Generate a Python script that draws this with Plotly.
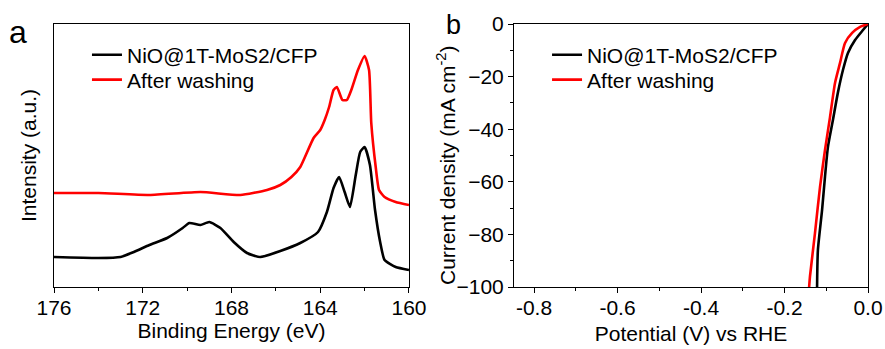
import plotly.graph_objects as go
from plotly.subplots import make_subplots

# ---- Panel a: XPS S 2p (binding energy eV, intensity a.u.) ----
be_black = [176.0, 174.0, 173.0, 172.4, 171.7, 170.9, 170.2, 169.9, 169.4, 169.0, 168.5,
            167.9, 167.3, 166.7, 165.8, 164.9, 164.1, 163.7, 163.4, 163.15, 162.9, 162.66,
            162.4, 162.2, 162.0, 161.76, 161.53, 161.3, 161.1, 160.6, 160.0]
int_black = [30, 29, 30, 35, 42, 49, 59, 64, 62, 65, 59,
             45, 34, 30, 36, 44, 55, 75, 99, 110, 95, 80,
             112, 135, 140, 122, 77, 45, 27, 20, 17]

be_red = [176.0, 174.0, 171.7, 169.4, 167.6, 166.4, 165.8, 165.3, 164.9, 164.3, 164.0,
          163.8, 163.6, 163.4, 163.25, 163.0, 162.8, 162.6, 162.3, 162.0, 161.8, 161.7,
          161.5, 161.35, 161.1, 160.6, 160.0]
int_red = [94, 94, 92, 95, 92, 97, 102, 110, 120, 149, 157,
           167, 180, 197, 200, 187, 187, 197, 217, 231, 217, 164,
           120, 97, 90, 85, 82]

# ---- Panel b: LSV (potential V vs RHE, current density mA cm^-2) ----
v_black = [0.0, -0.012, -0.031, -0.048, -0.060, -0.072, -0.084, -0.096, -0.103, -0.110, -0.120, -0.122]
j_black = [0.0, -2.3, -6.1, -11.0, -17.5, -26.0, -36.5, -46.8, -58.0, -70.7, -86.0, -100.0]

v_red = [0.0, -0.019, -0.038, -0.055, -0.067, -0.079, -0.091, -0.103, -0.115, -0.127, -0.139, -0.141]
j_red = [0.0, -1.1, -3.4, -7.2, -14.8, -22.4, -35.4, -47.9, -62.0, -79.5, -96.0, -100.0]

names = ["NiO@1T-MoS2/CFP", "After washing"]
colors = ["#000000", "#ff0000"]

FONT = "Liberation Sans, Arial, sans-serif"
FS = 21

fig = make_subplots(rows=1, cols=2, horizontal_spacing=0.1290)
fig.update_xaxes(domain=[0.0, 0.4361], row=1, col=1)
fig.update_xaxes(domain=[0.5651, 1.0], row=1, col=2)

fig.add_trace(go.Scatter(x=be_black, y=int_black, mode="lines", name=names[0],
                         line=dict(color=colors[0], width=2.6, shape="spline", smoothing=0.5),
                         legend="legend"), row=1, col=1)
fig.add_trace(go.Scatter(x=be_red, y=int_red, mode="lines", name=names[1],
                         line=dict(color=colors[1], width=2.6, shape="spline", smoothing=0.5),
                         legend="legend2"), row=1, col=1)
fig.add_trace(go.Scatter(x=v_black, y=j_black, mode="lines", name=names[0],
                         line=dict(color=colors[0], width=2.6, shape="spline", smoothing=0.6),
                         legend="legend3"), row=1, col=2)
fig.add_trace(go.Scatter(x=v_red, y=j_red, mode="lines", name=names[1],
                         line=dict(color=colors[1], width=2.6, shape="spline", smoothing=0.6),
                         legend="legend4"), row=1, col=2)

axis_common = dict(showline=True, linecolor="black", linewidth=1, mirror=True,
                   showgrid=False, zeroline=False, ticks="outside", ticklen=5,
                   tickcolor="black", tickwidth=1, automargin=False,
                   tickfont=dict(family=FONT, size=FS, color="black"),
                   minor=dict(ticks="outside", ticklen=3, tickcolor="black", tickwidth=1))

fig.update_xaxes(**axis_common, row=1, col=1)
fig.update_xaxes(range=[176, 160], tickmode="array", tickvals=[176, 172, 168, 164, 160],
                 minor=dict(tickvals=[174, 170, 166, 162]), ticklabelstandoff=-3,
                 title=dict(text="Binding Energy (eV)", font=dict(family=FONT, size=FS, color="black"), standoff=0),
                 row=1, col=1)
fig.update_yaxes(showline=True, linecolor="black", linewidth=1, mirror=True, automargin=False,
                 showgrid=False, zeroline=False, showticklabels=False, ticks="",
                 range=[0, 263],
                 title=dict(text="Intensity (a.u.)", font=dict(family=FONT, size=FS, color="black"), standoff=10),
                 row=1, col=1)

fig.update_xaxes(**axis_common, row=1, col=2)
fig.update_xaxes(range=[-0.848, 0.0], tickmode="array", tickvals=[-0.8, -0.6, -0.4, -0.2, 0.0],
                 ticktext=["-0.8", "-0.6", "-0.4", "-0.2", "0.0"], ticklabelstandoff=-3,
                 minor=dict(tickvals=[-0.7, -0.5, -0.3, -0.1]),
                 title=dict(text="Potential (V) vs RHE", font=dict(family=FONT, size=FS, color="black"), standoff=8),
                 row=1, col=2)
fig.update_yaxes(**axis_common, row=1, col=2)
fig.update_yaxes(range=[-100, 0], tickmode="array", tickvals=[0, -20, -40, -60, -80, -100],
                 minor=dict(tickvals=[-10, -30, -50, -70, -90]),
                 row=1, col=2)

legend_common = dict(bgcolor="rgba(0,0,0,0)", borderwidth=0, xanchor="left", yanchor="middle",
                     font=dict(family=FONT, size=FS, color="black"), itemwidth=30)
fig.update_layout(
    width=885, height=349,
    margin=dict(l=54, r=17, t=24, b=62, autoexpand=False),
    paper_bgcolor="white", plot_bgcolor="white",
    showlegend=True,
    legend=dict(x=0.0405, y=0.882, **legend_common),
    legend2=dict(x=0.0405, y=0.787, **legend_common),
    legend3=dict(x=0.6057, y=0.882, **legend_common),
    legend4=dict(x=0.6057, y=0.787, **legend_common),
    annotations=[
        dict(text="a", x=-0.058, y=1.045, xref="paper", yref="paper", showarrow=False,
             xanchor="left", yanchor="top", font=dict(family=FONT, size=32, color="black")),
        dict(text="b", x=0.479, y=1.061, xref="paper", yref="paper", showarrow=False,
             xanchor="left", yanchor="top", font=dict(family=FONT, size=27, color="black")),
        dict(text="Current density (mA cm<sup>-2</sup>)", x=0.500, y=0.46, xref="paper", yref="paper",
             showarrow=False, textangle=-90, xanchor="right", yanchor="middle",
             font=dict(family=FONT, size=FS, color="black")),
    ],
)

fig.write_html("out.html")
